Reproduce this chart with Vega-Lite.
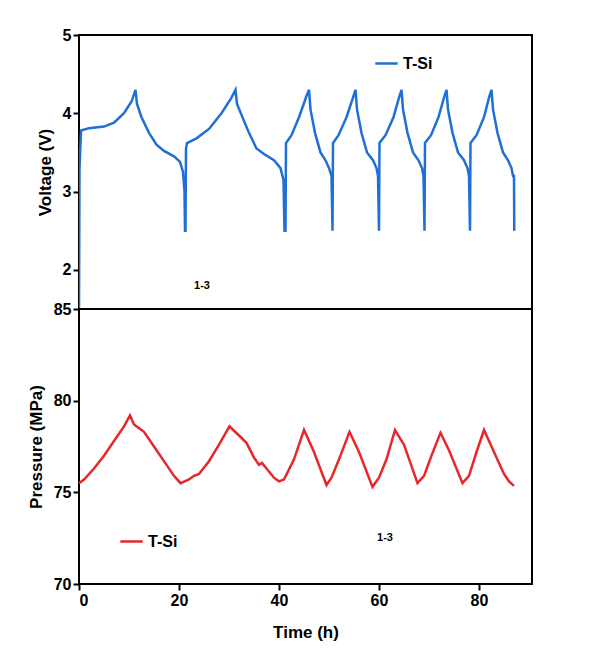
{
  "$schema": "https://vega.github.io/schema/vega-lite/v6.json",
  "padding": {"left": 26, "top": 26, "right": 5, "bottom": 5},
  "background": "white",
  "spacing": 0,
  "bounds": "flush",
  "config": {
    "font": "Liberation Sans",
    "view": {"stroke": "black", "strokeWidth": 2},
    "axis": {
      "labelFont": "Liberation Sans", "labelFontSize": 16, "labelFontWeight": "bold", "labelColor": "black",
      "titleFont": "Liberation Sans", "titleFontSize": 17, "titleFontWeight": "bold", "titleColor": "black",
      "domain": false, "grid": false, "tickColor": "black", "tickWidth": 2, "tickSize": 6
    },
    "legend": {"labelFont": "Liberation Sans", "labelFontSize": 16, "labelFontWeight": "bold", "labelColor": "black"}
  },
  "vconcat": [
    {
      "width": 453,
      "height": 274,
      "layer": [
        {
          "data": {"values": [
            {"t":0,"v":1.5},{"t":0.1,"v":3.3},{"t":0.4,"v":3.78},{"t":2,"v":3.81},{"t":5,"v":3.83},{"t":7,"v":3.88},{"t":9,"v":4.0},{"t":10.5,"v":4.15},{"t":11.3,"v":4.3},{"t":11.6,"v":4.12},{"t":12.5,"v":3.95},{"t":14,"v":3.75},{"t":15.5,"v":3.6},{"t":17,"v":3.52},{"t":19,"v":3.45},{"t":20.2,"v":3.38},{"t":20.8,"v":3.25},{"t":21.1,"v":3.0},{"t":21.2,"v":2.5},{"t":21.3,"v":2.5},{"t":21.4,"v":3.55},{"t":21.6,"v":3.62},{"t":23.5,"v":3.68},{"t":26,"v":3.8},{"t":28.5,"v":4.0},{"t":30.5,"v":4.2},{"t":31.3,"v":4.3},{"t":31.6,"v":4.12},{"t":32.5,"v":3.98},{"t":34,"v":3.75},{"t":35.5,"v":3.55},{"t":37,"v":3.48},{"t":39,"v":3.4},{"t":40.3,"v":3.3},{"t":40.9,"v":3.15},{"t":41.1,"v":2.5},{"t":41.3,"v":2.5},{"t":41.4,"v":3.62},{"t":42.5,"v":3.72},{"t":44,"v":3.95},{"t":45.5,"v":4.22},{"t":46,"v":4.3},{"t":46.3,"v":4.05},{"t":47.2,"v":3.75},{"t":48.3,"v":3.5},{"t":49.3,"v":3.4},{"t":50,"v":3.3},{"t":50.5,"v":3.2},{"t":50.7,"v":2.5},
            {"t":50.8,"v":3.62},{"t":51.9,"v":3.72},{"t":53.5,"v":3.95},{"t":54.8,"v":4.2},{"t":55.3,"v":4.3},{"t":55.6,"v":4.05},{"t":56.5,"v":3.75},{"t":57.6,"v":3.5},{"t":58.8,"v":3.4},{"t":59.5,"v":3.3},{"t":59.8,"v":3.2},{"t":60.0,"v":2.5},
            {"t":60.1,"v":3.62},{"t":61.3,"v":3.72},{"t":62.9,"v":3.95},{"t":64.0,"v":4.2},{"t":64.5,"v":4.3},{"t":64.8,"v":4.05},{"t":65.7,"v":3.75},{"t":66.8,"v":3.5},{"t":67.9,"v":3.4},{"t":68.6,"v":3.3},{"t":68.9,"v":3.2},{"t":69.1,"v":2.5},
            {"t":69.2,"v":3.62},{"t":70.4,"v":3.72},{"t":71.9,"v":3.95},{"t":73.0,"v":4.2},{"t":73.5,"v":4.3},{"t":73.8,"v":4.05},{"t":74.7,"v":3.75},{"t":75.8,"v":3.5},{"t":77.0,"v":3.4},{"t":77.7,"v":3.3},{"t":78.0,"v":3.2},{"t":78.2,"v":2.5},
            {"t":78.3,"v":3.62},{"t":79.5,"v":3.72},{"t":81.0,"v":3.95},{"t":82.0,"v":4.2},{"t":82.5,"v":4.3},{"t":82.8,"v":4.05},{"t":83.7,"v":3.75},{"t":84.8,"v":3.5},{"t":85.8,"v":3.4},{"t":86.5,"v":3.3},{"t":86.8,"v":3.2},{"t":87.0,"v":3.2},{"t":87.05,"v":2.5}
          ]},
          "mark": {"type": "line", "strokeWidth": 2.5, "clip": true},
          "encoding": {
            "x": {"field": "t", "type": "quantitative", "scale": {"domain": [0, 90.6], "nice": false}, "axis": null},
            "y": {"field": "v", "type": "quantitative", "scale": {"domain": [1.5, 5], "nice": false, "zero": false}, "axis": {"title": "Voltage (V)", "values": [2,3,4,5], "format": "d", "titlePadding": 8}},
            "color": {"datum": "T-Si", "type": "nominal", "scale": {"range": ["#1f6fd6"]},
              "legend": {"title": null, "orient": "none", "legendX": 295, "legendY": 16, "symbolType": "stroke", "symbolStrokeWidth": 2.5, "symbolSize": 500}}
          }
        },
        {
          "data": {"values": [{"t": 24.6, "v": 1.8, "label": "1-3"}]},
          "mark": {"type": "text", "fontSize": 11, "fontWeight": "bold", "color": "black"},
          "encoding": {"x": {"field": "t", "type": "quantitative"}, "y": {"field": "v", "type": "quantitative"}, "text": {"field": "label"}}
        }
      ]
    },
    {
      "width": 453,
      "height": 275,
      "layer": [
        {
          "data": {"values": [
            {"t":0,"p":75.5},{"t":1,"p":75.7},{"t":3,"p":76.3},{"t":5,"p":77.0},{"t":7,"p":77.8},{"t":9,"p":78.6},{"t":10.2,"p":79.2},{"t":11,"p":78.7},{"t":12.5,"p":78.4},{"t":13,"p":78.3},{"t":15,"p":77.5},{"t":17,"p":76.7},{"t":19,"p":75.9},{"t":20.3,"p":75.5},{"t":22,"p":75.7},{"t":23,"p":75.9},{"t":24,"p":76.0},{"t":26,"p":76.7},{"t":28,"p":77.6},{"t":30.1,"p":78.6},{"t":32,"p":78.1},{"t":33.5,"p":77.7},{"t":35,"p":76.9},{"t":36,"p":76.5},{"t":36.6,"p":76.6},{"t":37.5,"p":76.3},{"t":39,"p":75.8},{"t":40,"p":75.6},{"t":41,"p":75.7},{"t":43,"p":76.8},{"t":45,"p":78.4},{"t":47,"p":77.2},{"t":49.5,"p":75.4},{"t":50.5,"p":75.8},{"t":52,"p":76.8},{"t":54.1,"p":78.3},{"t":56,"p":77.2},{"t":58.7,"p":75.3},{"t":60,"p":75.8},{"t":61.5,"p":76.8},{"t":63.2,"p":78.4},{"t":65,"p":77.6},{"t":67.7,"p":75.5},{"t":69,"p":75.9},{"t":70.5,"p":77.0},{"t":72.3,"p":78.25},{"t":74,"p":77.3},{"t":76.7,"p":75.5},{"t":78,"p":75.9},{"t":79.5,"p":77.2},{"t":81,"p":78.4},{"t":83,"p":77.2},{"t":85,"p":76.0},{"t":86,"p":75.6},{"t":87,"p":75.35}
          ]},
          "mark": {"type": "line", "strokeWidth": 2.5},
          "encoding": {
            "x": {"field": "t", "type": "quantitative", "scale": {"domain": [0, 90.6], "nice": false}, "axis": {"title": "Time (h)", "values": [0,20,40,60,80], "titlePadding": 16}},
            "y": {"field": "p", "type": "quantitative", "scale": {"domain": [70, 85], "nice": false, "zero": false}, "axis": {"title": "Pressure (MPa)", "values": [70,75,80,85], "titlePadding": 8}},
            "color": {"datum": "T-Si ", "type": "nominal", "scale": {"range": ["#e8262b"]},
              "legend": {"title": null, "orient": "none", "legendX": 40, "legendY": 220, "symbolType": "stroke", "symbolStrokeWidth": 2.5, "symbolSize": 500}}
          }
        },
        {
          "data": {"values": [{"t": 61.2, "p": 72.5, "label": "1-3"}]},
          "mark": {"type": "text", "fontSize": 11, "fontWeight": "bold", "color": "black"},
          "encoding": {"x": {"field": "t", "type": "quantitative"}, "y": {"field": "p", "type": "quantitative"}, "text": {"field": "label"}}
        }
      ],
      "resolve": {"scale": {"color": "independent"}}
    }
  ],
  "resolve": {"scale": {"color": "independent"}}
}
